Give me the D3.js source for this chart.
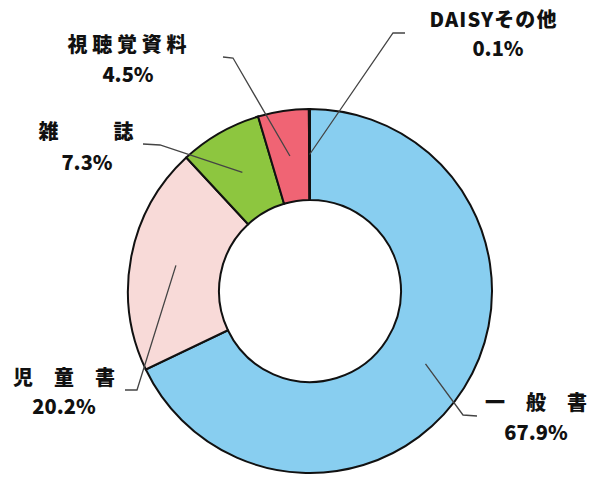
<!DOCTYPE html>
<html>
<head>
<meta charset="utf-8">
<script src="https://cdn.jsdelivr.net/npm/d3@7"></script>
<style>
  body { margin: 0; background: #fff; }
  text { font-family: "Noto Sans CJK JP", "Noto Sans", sans-serif; font-weight: 900; fill: #111; }
</style>
</head>
<body>
<div id="chart"></div>
<script>
// ---------- DATA ----------
const categories = ["一般書", "児童書", "雑誌", "視聴覚資料", "DAISYその他"];
const shares = [67.9, 20.2, 7.3, 4.5, 0.1];
const sliceColors = ["#88cef0", "#f8dad8", "#8dc63f", "#f06474", "#d8d8d8"];

// ---------- LAYOUT ----------
const width = 600;
const height = 477;
const cx = 310, cy = 291;
const outerR = 182, innerR = 91;

// label placement: elbow of leader, end of leader, label centre, name width
const labelLayout = {
	"一般書": { elbow: [463, 415], end: [477, 416], name: [536, 403], pct: [536, 433], len: 102 },
	"児童書": { elbow: [137, 390], end: [125, 390], name: [64, 378], pct: [64, 407], len: 102 },
	"雑誌": { elbow: [160, 145], end: [143, 144], name: [86, 132], pct: [87, 163], len: 95 },
	"視聴覚資料": { elbow: [233, 58], end: [223, 57], name: [127, 45], pct: [128, 75], len: 119 },
	"DAISYその他": { elbow: [393, 33], end: [405, 33], name: [493, 20], pct: [498, 49], len: 127 },
};

const svg = d3
	.select("#chart")
	.append("svg")
	.attr("width", width)
	.attr("height", height);

const data = categories.map((c, i) => ({ name: c, value: shares[i], color: sliceColors[i] }));

const pie = d3.pie().sort(null).value((d) => d.value);
const arc = d3.arc().innerRadius(innerR).outerRadius(outerR);
const midArc = d3.arc().innerRadius((innerR + outerR) / 2).outerRadius((innerR + outerR) / 2);

const g = svg.append("g").attr("transform", `translate(${cx}, ${cy})`);

g.selectAll("path.slice")
	.data(pie(data))
	.enter()
	.append("path")
	.classed("slice", true)
	.attr("d", arc)
	.attr("fill", (d) => d.data.color)
	.attr("stroke", "#111")
	.attr("stroke-width", 2);

// leader lines
const leaders = svg.append("g");
pie(data).forEach((d) => {
	const lay = labelLayout[d.data.name];
	const c = midArc.centroid(d);
	const start = [c[0] + cx, c[1] + cy];
	leaders
		.append("polyline")
		.attr("points", [start, lay.elbow, lay.end].map((p) => p.join(",")).join(" "))
		.attr("fill", "none")
		.attr("stroke", "#444")
		.attr("stroke-width", 1.3);
});

// labels
const labels = svg.append("g");
data.forEach((d) => {
	const lay = labelLayout[d.name];
	labels
		.append("text")
		.attr("x", lay.name[0] - lay.len / 2)
		.attr("y", lay.name[1])
		.attr("dy", "0.36em")
		.attr("font-size", 20)
		.attr("textLength", lay.len)
		.attr("lengthAdjust", "spacing")
		.text(d.name);
	labels
		.append("text")
		.attr("x", lay.pct[0])
		.attr("y", lay.pct[1])
		.attr("dy", "0.36em")
		.attr("font-size", 20)
		.attr("text-anchor", "middle")
		.text(d.value.toFixed(1) + "%");
});
</script>
</body>
</html>
